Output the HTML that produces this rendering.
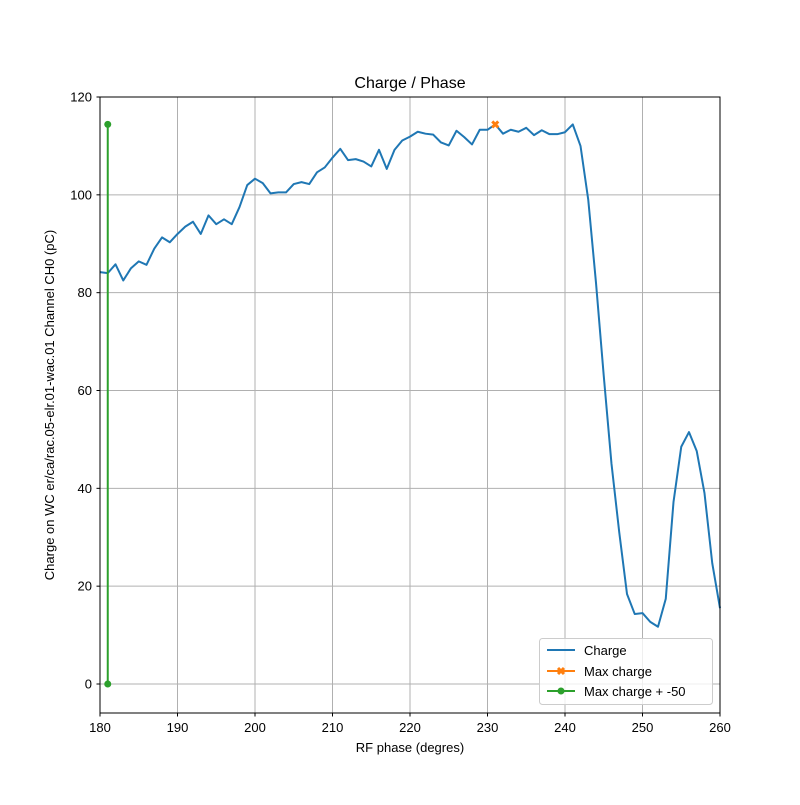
<!DOCTYPE html>
<html><head><meta charset="utf-8"><style>
body{margin:0;background:#fff}
svg{font-family:"Liberation Sans","DejaVu Sans",sans-serif}
</style></head><body>
<svg id="chart" width="800" height="800" viewBox="0 0 800 800">
<rect width="800" height="800" fill="#fff"/>
<g id="grid"></g>
<g id="series"></g>
<rect x="100" y="97" width="620" height="616" fill="none" stroke="#000" stroke-width="1"/>
<g id="ticks"></g>
<text x="410" y="88" text-anchor="middle" font-size="16">Charge / Phase</text>
<text x="410" y="752" text-anchor="middle" font-size="13">RF phase (degres)</text>
<text transform="translate(54,405) rotate(-90)" text-anchor="middle" font-size="13">Charge on WC er/ca/rac.05-elr.01-wac.01 Channel CH0 (pC)</text>
<g>
<rect x="539.5" y="638.5" width="173" height="66" rx="3" fill="#fff" fill-opacity="0.8" stroke="#ccc"/>
<line x1="547" y1="650" x2="575" y2="650" stroke="#1f77b4" stroke-width="2"/>
<text x="584" y="655" font-size="13">Charge</text>
<line x1="547" y1="671" x2="575" y2="671" stroke="#ff7f0e" stroke-width="2"/>
<path d="M558,668 l6,6 M564,668 l-6,6" stroke="#ff7f0e" stroke-width="3"/>
<text x="584" y="676" font-size="13">Max charge</text>
<line x1="547" y1="691" x2="575" y2="691" stroke="#2ca02c" stroke-width="2"/>
<circle cx="561" cy="691" r="3.5" fill="#2ca02c"/>
<text x="584" y="696" font-size="13">Max charge + -50</text>
</g>
</svg>
<script>
const phases = [];
for (let p = 180; p <= 260; p++) phases.push(p);
const charge = [84.2,84.0,85.8,82.5,85,86.4,85.7,89,91.3,90.3,92,93.5,94.5,92,95.8,94,95,94,97.5,102,103.3,102.4,100.3,100.5,100.5,102.2,102.6,102.2,104.6,105.6,107.6,109.4,107.1,107.3,106.8,105.8,109.2,105.3,109.2,111.1,111.9,112.9,112.5,112.3,110.7,110.1,113.1,111.8,110.3,113.3,113.3,114.4,112.5,113.3,112.9,113.7,112.2,113.2,112.4,112.4,112.8,114.4,110,99,82,63,45,31,18.4,14.3,14.5,12.7,11.7,17.4,37.2,48.5,51.5,47.6,39,24.7,15.5];
const maxPhase = [231];
const maxCharge = [114.4];
const offsetPhase = [181,181];
const offsetCharge = [114.4,0];
const xTicks = [180,190,200,210,220,230,240,250,260];
const yTicks = [0,20,40,60,80,100,120];

const NS="http://www.w3.org/2000/svg";
const X=v=>100+(v-180)*620/80;
const Y=v=>684-v*587/120;
function mk(tag,attrs,parent){const e=document.createElementNS(NS,tag);for(const k in attrs)e.setAttribute(k,attrs[k]);parent.appendChild(e);return e;}
const grid=document.getElementById('grid'),ticks=document.getElementById('ticks'),series=document.getElementById('series');
xTicks.forEach(t=>{
  const g=mk('line',{x1:X(t),x2:X(t),y1:97,y2:713,stroke:'#b0b0b0','stroke-width':1},grid);
  
  
  mk('line',{x1:X(t),x2:X(t),y1:713,y2:716.5,stroke:'#000'},ticks);
  const tx=mk('text',{x:X(t),y:732,'text-anchor':'middle','font-size':13},ticks);
  tx.textContent=t;
  
  
});
yTicks.forEach(t=>{
  const g=mk('line',{x1:100,x2:720,y1:Y(t),y2:Y(t),stroke:'#b0b0b0','stroke-width':1},grid);
  
  
  mk('line',{x1:96.5,x2:100,y1:Y(t),y2:Y(t),stroke:'#000'},ticks);
  const tx=mk('text',{x:92,y:Y(t)+4.5,'text-anchor':'end','font-size':13},ticks);
  tx.textContent=t;
  
  
});
const cl=mk('polyline',{points:phases.map((p,i)=>X(p)+','+Y(charge[i])).join(' '),fill:'none',stroke:'#1f77b4','stroke-width':2,'stroke-linejoin':'round'},series);


const gl=mk('polyline',{points:offsetPhase.map((p,i)=>X(p)+','+Y(offsetCharge[i])).join(' '),fill:'none',stroke:'#2ca02c','stroke-width':2},series);


offsetPhase.forEach((p,i)=>{
  const c=mk('circle',{cx:X(p),cy:Y(offsetCharge[i]),r:3.5,fill:'#2ca02c'},series);
  
  
});
maxPhase.forEach((p,i)=>{
  const x=X(p),y=Y(maxCharge[i]);
  const m=mk('path',{d:`M${x-3},${y-3} L${x+3},${y+3} M${x+3},${y-3} L${x-3},${y+3}`,stroke:'#ff7f0e','stroke-width':3},series);
  
  
});
</script>
</body></html>
